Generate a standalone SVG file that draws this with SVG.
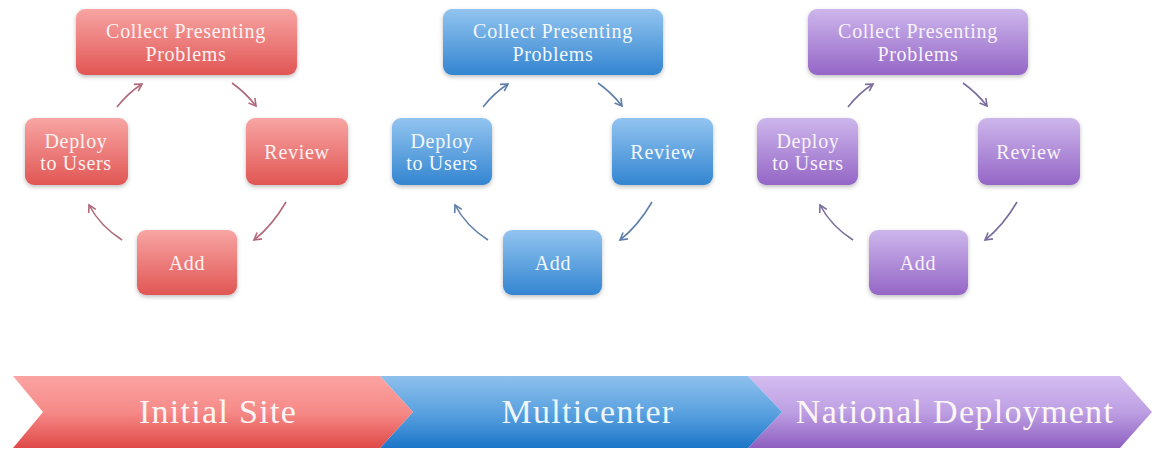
<svg xmlns="http://www.w3.org/2000/svg" width="1154" height="451" viewBox="0 0 1154 451">
<defs>
<linearGradient id="gR" x1="0" y1="0" x2="0" y2="1"><stop offset="0" stop-color="#f7a5a3"/><stop offset="1" stop-color="#e15654"/></linearGradient>
<linearGradient id="gB" x1="0" y1="0" x2="0" y2="1"><stop offset="0" stop-color="#92c4f0"/><stop offset="1" stop-color="#3385d0"/></linearGradient>
<linearGradient id="gP" x1="0" y1="0" x2="0" y2="1"><stop offset="0" stop-color="#cdb6ec"/><stop offset="1" stop-color="#9466c6"/></linearGradient>
<linearGradient id="cR" x1="0" y1="0" x2="0" y2="1"><stop offset="0" stop-color="#fba4a2"/><stop offset="0.5" stop-color="#f68a88"/><stop offset="1" stop-color="#df4a48"/></linearGradient>
<linearGradient id="cB" x1="0" y1="0" x2="0" y2="1"><stop offset="0" stop-color="#8ec0ec"/><stop offset="0.5" stop-color="#5ba2e0"/><stop offset="1" stop-color="#1c76c8"/></linearGradient>
<linearGradient id="cP" x1="0" y1="0" x2="0" y2="1"><stop offset="0" stop-color="#d4bdf0"/><stop offset="0.5" stop-color="#bd9fe3"/><stop offset="1" stop-color="#8e5fc0"/></linearGradient>
<filter id="sh" x="-10%" y="-10%" width="125%" height="135%"><feDropShadow dx="0" dy="2" stdDeviation="2" flood-color="#000" flood-opacity="0.25"/></filter>
<marker id="mR" viewBox="0 0 10 10" refX="8" refY="5" markerWidth="10" markerHeight="10" markerUnits="userSpaceOnUse" orient="auto"><path d="M1,1 L8,5 L1,9" fill="none" stroke="#b0687a" stroke-width="1.6"/></marker>
<marker id="mB" viewBox="0 0 10 10" refX="8" refY="5" markerWidth="10" markerHeight="10" markerUnits="userSpaceOnUse" orient="auto"><path d="M1,1 L8,5 L1,9" fill="none" stroke="#5f7fa8" stroke-width="1.6"/></marker>
<marker id="mP" viewBox="0 0 10 10" refX="8" refY="5" markerWidth="10" markerHeight="10" markerUnits="userSpaceOnUse" orient="auto"><path d="M1,1 L8,5 L1,9" fill="none" stroke="#7a6d9c" stroke-width="1.6"/></marker>
</defs>
<style>
.t{font-family:"Liberation Serif","DejaVu Serif",serif;font-size:20px;letter-spacing:0.7px;fill:#fdf3f3;text-anchor:middle}
.big{font-family:"Liberation Serif","DejaVu Serif",serif;font-size:34px;letter-spacing:1.3px;fill:#fdf6f6;text-anchor:middle}
.box{filter:url(#sh)}
.aR{fill:none;stroke:#b0687a;stroke-width:1.6;marker-end:url(#mR)}
.aB{fill:none;stroke:#5f7fa8;stroke-width:1.6;marker-end:url(#mB)}
.aP{fill:none;stroke:#7a6d9c;stroke-width:1.6;marker-end:url(#mP)}
</style>
<rect width="1154" height="451" fill="#ffffff"/>

<!-- Red cycle -->
<g id="red-collect"><rect class="box" x="76" y="9" width="221" height="66" rx="9" fill="url(#gR)"/><text class="t" x="186" y="38">Collect Presenting</text><text class="t" x="186" y="61">Problems</text></g>
<g id="red-deploy"><rect class="box" x="25" y="118" width="103" height="67" rx="9" fill="url(#gR)"/><text class="t" x="76" y="148">Deploy</text><text class="t" x="76" y="170">to Users</text></g>
<g id="red-review"><rect class="box" x="246" y="118" width="102" height="67" rx="9" fill="url(#gR)"/><text class="t" x="297" y="159">Review</text></g>
<g id="red-add"><rect class="box" x="137" y="230" width="100" height="65" rx="9" fill="url(#gR)"/><text class="t" x="187" y="270">Add</text></g>

<!-- Blue cycle -->
<g id="blue-collect"><rect class="box" x="443" y="9" width="220" height="66" rx="9" fill="url(#gB)"/><text class="t" x="553" y="38" style="fill:#f3f8fd">Collect Presenting</text><text class="t" x="553" y="61" style="fill:#f3f8fd">Problems</text></g>
<g id="blue-deploy"><rect class="box" x="392" y="118" width="100" height="67" rx="9" fill="url(#gB)"/><text class="t" x="442" y="148" style="fill:#f3f8fd">Deploy</text><text class="t" x="442" y="170" style="fill:#f3f8fd">to Users</text></g>
<g id="blue-review"><rect class="box" x="612" y="118" width="101" height="67" rx="9" fill="url(#gB)"/><text class="t" x="663" y="159" style="fill:#f3f8fd">Review</text></g>
<g id="blue-add"><rect class="box" x="503" y="230" width="99" height="65" rx="9" fill="url(#gB)"/><text class="t" x="553" y="270" style="fill:#f3f8fd">Add</text></g>

<!-- Purple cycle -->
<g id="purple-collect"><rect class="box" x="808" y="9" width="220" height="66" rx="9" fill="url(#gP)"/><text class="t" x="918" y="38" style="fill:#f8f3fd">Collect Presenting</text><text class="t" x="918" y="61" style="fill:#f8f3fd">Problems</text></g>
<g id="purple-deploy"><rect class="box" x="757" y="118" width="101" height="67" rx="9" fill="url(#gP)"/><text class="t" x="808" y="148" style="fill:#f8f3fd">Deploy</text><text class="t" x="808" y="170" style="fill:#f8f3fd">to Users</text></g>
<g id="purple-review"><rect class="box" x="978" y="118" width="102" height="67" rx="9" fill="url(#gP)"/><text class="t" x="1029" y="159" style="fill:#f8f3fd">Review</text></g>
<g id="purple-add"><rect class="box" x="869" y="230" width="99" height="65" rx="9" fill="url(#gP)"/><text class="t" x="918" y="270" style="fill:#f8f3fd">Add</text></g>

<!-- Connectors -->
<g id="connectors">
<path class="aR" d="M117,107 Q128,93 142,84"/>
<path class="aR" d="M232,83 Q246,93 256,106"/>
<path class="aR" d="M286,202 Q272,226 254,240"/>
<path class="aR" d="M122,240 Q100,226 89,205"/>

<path class="aB" d="M483,107 Q494,93 508,84"/>
<path class="aB" d="M598,83 Q612,93 622,106"/>
<path class="aB" d="M652,202 Q638,226 620,240"/>
<path class="aB" d="M488,240 Q466,226 455,205"/>

<path class="aP" d="M848,107 Q859,93 873,84"/>
<path class="aP" d="M963,83 Q977,93 987,106"/>
<path class="aP" d="M1017,202 Q1003,226 985,240"/>
<path class="aP" d="M853,240 Q831,226 820,205"/>
</g>

<!-- Phase chevrons -->
<g id="phase-national"><polygon points="748,376 1120,376 1152,412 1120,448 748,448 782,412" fill="url(#cP)"/><text class="big" x="955" y="423">National Deployment</text></g>
<g id="phase-multicenter"><polygon points="380,376 748,376 782,412 748,448 380,448 413,412" fill="url(#cB)"/><text class="big" x="588" y="423" style="fill:#eef6fd">Multicenter</text></g>
<g id="phase-initial"><polygon points="13,376 380,376 413,412 380,448 13,448 43,412" fill="url(#cR)"/><text class="big" x="218" y="423">Initial Site</text></g>
</svg>
